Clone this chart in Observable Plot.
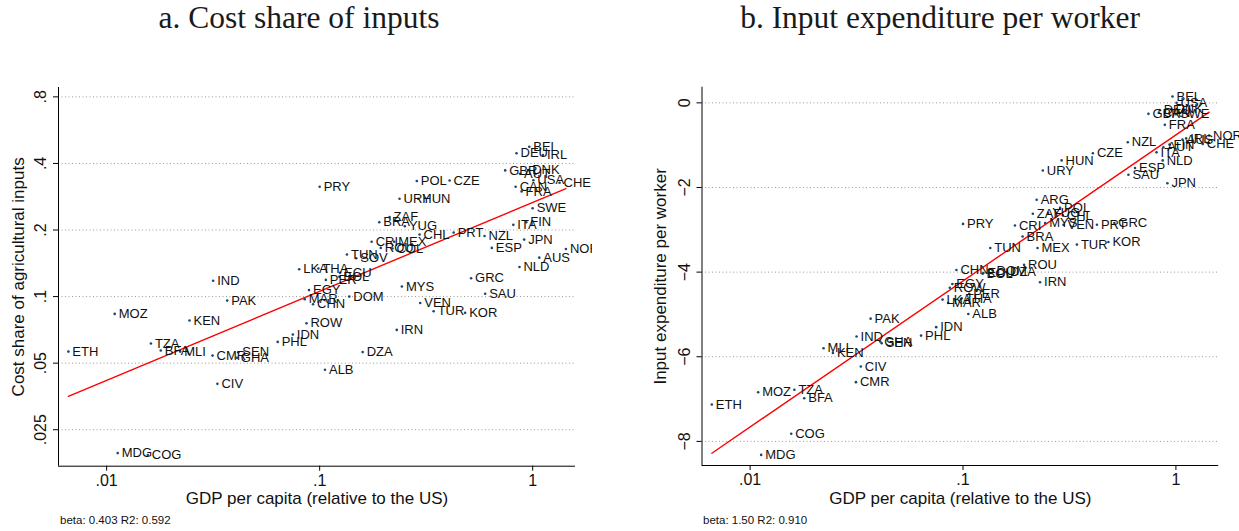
<!DOCTYPE html>
<html><head><meta charset="utf-8">
<script src="https://cdn.jsdelivr.net/npm/d3@7"></script>
<script src="https://cdn.jsdelivr.net/npm/@observablehq/plot@0.6"></script>
<style>
body{margin:0;width:1239px;height:531px;background:#fff;position:relative;overflow:hidden;font-family:"Liberation Sans",Arial,sans-serif}
.title{position:absolute;top:0px;font-family:"Liberation Serif","Times New Roman",serif;font-size:31.5px;color:#1a1a1a;white-space:nowrap;transform:translateX(-50%)}
.cap{position:absolute;top:514px;font-size:11.5px;color:#111;font-family:"Liberation Sans",Arial,sans-serif}
.panel{position:absolute;top:60px}
</style></head><body>
<div class="title" style="left:299px">a. Cost share of inputs</div>
<div class="title" style="left:940px">b. Input expenditure per worker</div>
<div class="panel" id="pa" style="left:0px"></div>
<div class="panel" id="pb" style="left:620px"></div>
<div class="cap" style="left:60px">beta: 0.403 R2: 0.592</div>
<div class="cap" style="left:703px">beta: 1.50 R2: 0.910</div>
<script>
// ---- data ----
const countries = ["ETH","MOZ","MDG","COG","TZA","BFA","MLI","KEN","IND","CMR","CIV","PAK","GHA","SEN","PHL","IDN","LKA","MAR","ROW","EGY","CHN","THA","PRY","ALB","PER","BOL","ECU","TUN","DOM","SOV","DZA","CRI","BRA","ROU","ZAF","COL","ARG","MEX","IRN","URY","MYS","YUG","POL","HUN","CHL","VEN","TUR","CZE","PRT","KOR","GRC","NZL","SAU","ESP","GBR","ITA","CAN","DEU","NLD","AUT","FRA","JPN","FIN","DNK","BEL","SWE","USA","AUS","IRL","CHE","NOR"];
const gdp = [0.00661,0.01091,0.01127,0.01560,0.01614,0.01795,0.02213,0.02449,0.03162,0.03141,0.03311,0.03681,0.04083,0.04150,0.06353,0.07482,0.08017,0.08511,0.08670,0.08913,0.09311,0.09863,0.1000,0.1059,0.1069,0.1236,0.1247,0.1343,0.1377,0.1486,0.1592,0.1754,0.1905,0.1936,0.2128,0.2198,0.2218,0.2239,0.2301,0.2371,0.2432,0.2512,0.2858,0.2904,0.2944,0.2965,0.3428,0.4074,0.4256,0.4819,0.5140,0.5943,0.5984,0.6427,0.7430,0.8110,0.8318,0.8395,0.8670,0.8730,0.8872,0.9120,0.9333,0.9528,0.9638,1.000,1.007,1.074,1.117,1.337,1.432];
const costShare = [0.0564,0.0835,0.0196,0.0192,0.0614,0.0570,0.0564,0.0779,0.118,0.0541,0.0403,0.0959,0.0529,0.0560,0.0624,0.0674,0.133,0.0972,0.0758,0.107,0.0923,0.134,0.314,0.0467,0.119,0.123,0.128,0.155,0.100,0.149,0.0561,0.177,0.217,0.166,0.229,0.165,null,0.177,0.0707,0.277,0.111,0.208,0.333,0.277,0.191,0.0936,0.0859,0.335,0.195,0.0844,0.121,0.188,0.103,0.166,0.372,0.211,0.314,0.445,0.136,0.359,0.299,0.181,0.217,0.373,0.476,0.251,0.336,0.150,0.436,0.327,0.164];
const inputExp = [-7.13,-6.84,-8.32,-7.82,-6.78,-6.98,-5.80,-5.91,-5.52,-6.60,-6.23,-5.10,-5.64,-5.68,-5.50,-5.30,-4.65,-4.73,-4.37,-4.28,-3.95,-4.62,-2.86,-4.99,-4.51,-4.04,-4.02,-3.43,-3.96,null,-4.00,-2.90,-3.16,-3.83,-2.62,null,-2.29,-3.43,-4.24,-1.60,-2.84,-2.60,-2.48,-1.36,-2.66,-2.88,-3.35,-1.19,-2.88,-3.29,-2.84,-0.93,-1.70,-1.54,-0.26,-1.17,-0.23,-0.17,-1.36,-1.05,-0.52,-1.90,-0.985,-0.15,0.15,-0.27,0.0,-0.87,-0.84,-0.97,-0.77];
// fitted lines (endpoints)
const fitGdp = [0.00661, 1.432];
const fitShare = [0.0354, 0.308];
const fitExp = [-8.28, -0.22];
// axes
const xTicks = [0.01, 0.1, 1];
const xTickLabels = [".01", ".1", "1"];
const shareTicks = [0.025, 0.05, 0.1, 0.2, 0.4, 0.8];
const shareTickLabels = [".025", ".05", ".1", ".2", ".4", ".8"];
const expTicks = [-8, -6, -4, -2, 0];
const expTickLabels = ["\u22128", "\u22126", "\u22124", "\u22122", "0"];
const xTitle = "GDP per capita (relative to the US)";

function panel(opts) {
  const rows = countries.map((c, i) => ({c, x: gdp[i], y: opts.values[i]})).filter(d => d.y != null);
  const fit = fitGdp.map((x, i) => ({x, y: opts.fit[i]}));
  const xDom = [Math.pow(10, -2.226), Math.pow(10, 0.201)];
  const yTickRows = opts.yTicks.map((t, i) => ({t, label: opts.yLabels[i]}));
  const xTickRows = xTicks.map((t, i) => ({t, label: xTickLabels[i]}));
  return Plot.plot({
    width: opts.width, height: 450,
    marginLeft: opts.marginLeft, marginRight: opts.marginRight, marginTop: opts.marginTop, marginBottom: opts.marginBottom,
    style: {fontFamily: "Liberation Sans, Arial, sans-serif", fontSize: "16px", color: "#111", background: "transparent", overflow: "hidden"},
    x: {type: "log", domain: xDom},
    y: {type: opts.yType, domain: opts.yDomain},
    marks: [
      Plot.gridY(opts.yTicks, {stroke: "#9a9a9a", strokeOpacity: 1, strokeDasharray: "1,2.5"}),
      Plot.axisX(xTicks, {tickSize: 5, text: null, label: null, stroke: "#000"}),
      Plot.text(xTickRows, {x: "t", frameAnchor: "bottom", text: "label", lineAnchor: "top", dy: 8, fontSize: 16, fill: "#111"}),
      Plot.axisY(opts.yTicks, {tickSize: 5, text: null, label: null, stroke: "#000"}),
      Plot.text(yTickRows, {y: "t", frameAnchor: "left", text: "label", rotate: -90, textAnchor: "middle", dx: -17.5, fontSize: 16, fill: "#111"}),
      Plot.ruleX([xDom[0]], {stroke: "#000"}),
      Plot.ruleY([opts.yDomain[0]], {stroke: "#000"}),
      Plot.line(fit, {x: "x", y: "y", stroke: "#ff0000", strokeWidth: 1.4}),
      Plot.dot(rows, {x: "x", y: "y", r: 1.3, fill: "#1a476f", stroke: null}),
      Plot.text(rows, {x: "x", y: "y", text: "c", textAnchor: "start", dx: 4, fontSize: 13, fill: "#111"}),
      Plot.text([xTitle], {frameAnchor: "bottom", textAnchor: "middle", dy: 38, fontSize: 17, fill: "#111"}),
      Plot.text([opts.yTitle], {frameAnchor: "left", rotate: -90, textAnchor: "middle", dx: opts.yTitleDx, fontSize: 17, fill: "#111"})
    ]
  });
}

document.getElementById("pa").appendChild(panel({
  values: costShare, fit: fitShare, yType: "log", yDomain: [0.0171, 0.882],
  yTicks: shareTicks, yLabels: shareTickLabels, yTitle: "Cost share of agricultural inputs",
  width: 592, marginLeft: 58, marginRight: 17, marginTop: 27, marginBottom: 44.3, yTitleDx: -40
}));
document.getElementById("pb").appendChild(panel({
  values: inputExp, fit: fitExp, yType: "linear", yDomain: [-8.57, 0.37],
  yTicks: expTicks, yLabels: expTickLabels, yTitle: "Input expenditure per worker",
  width: 619, marginLeft: 81.5, marginRight: 20.8, marginTop: 26.7, marginBottom: 45, yTitleDx: -41.5
}));
</script>
</body></html>
